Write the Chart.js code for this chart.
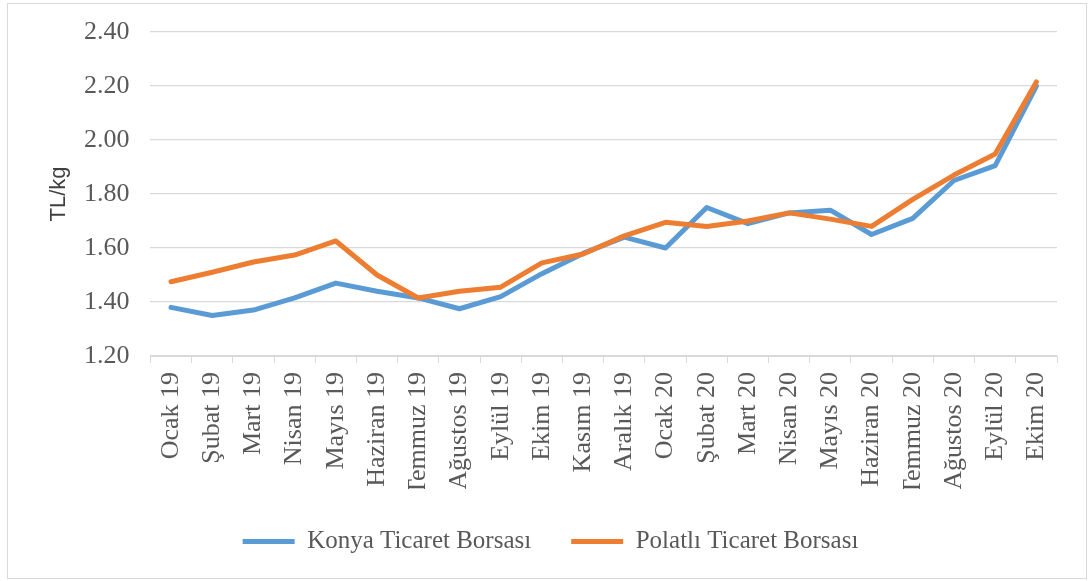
<!DOCTYPE html>
<html>
<head>
<meta charset="utf-8">
<script src="https://cdn.jsdelivr.net/npm/chart.js@4.4.1/dist/chart.umd.min.js"></script>
<style>
  html, body { margin: 0; padding: 0; background: #ffffff; }
  #wrap { position: relative; width: 1088px; height: 581px; }
  #c { position: absolute; left: 0; top: 0; }
  #frame { position: absolute; left: 7px; top: 3px; width: 1080px; height: 576px; box-sizing: border-box; border: 1px solid #d9d9d9; pointer-events: none; }
</style>
</head>
<body>
<div id="wrap">
  <canvas id="c" width="1088" height="581"></canvas>
  <div id="frame"></div>
</div>
<script>
const categories = ["Ocak 19","Şubat 19","Mart 19","Nisan 19","Mayıs 19","Haziran 19","Temmuz 19","Ağustos 19","Eylül 19","Ekim 19","Kasım 19","Aralık 19","Ocak 20","Şubat 20","Mart 20","Nisan 20","Mayıs 20","Haziran 20","Temmuz 20","Ağustos 20","Eylül 20","Ekim 20"];
const konya = [1.38,1.35,1.37,1.415,1.47,1.44,1.415,1.375,1.42,1.505,1.58,1.64,1.60,1.75,1.69,1.73,1.74,1.65,1.71,1.85,1.905,2.20];
const polatli = [1.475,1.51,1.548,1.574,1.626,1.50,1.415,1.44,1.455,1.545,1.578,1.645,1.695,1.68,1.70,1.73,1.707,1.68,1.78,1.87,1.948,2.215];
const seriesNames = ["Konya Ticaret Borsası","Polatlı Ticaret Borsası"];
const yMin = 1.2, yMax = 2.4, yStep = 0.2;
const yTitle = "TL/kg";

const legendHeightPlugin = {
  id: 'legendHeight',
  afterInit(chart) {
    const lg = chart.legend;
    if (!lg) return;
    const orig = lg.fit.bind(lg);
    lg.fit = function() { orig(); this.height = 92; };
  }
};

new Chart(document.getElementById('c'), {
  type: 'line',
  data: {
    labels: categories,
    datasets: [
      { label: seriesNames[0], data: konya, borderColor: '#5b9bd5', backgroundColor: '#5b9bd5', borderWidth: 5, pointRadius: 0, tension: 0, borderCapStyle: 'round', borderJoinStyle: 'round', order: 1 },
      { label: seriesNames[1], data: polatli, borderColor: '#ed7d31', backgroundColor: '#ed7d31', borderWidth: 5, pointRadius: 0, tension: 0, borderCapStyle: 'round', borderJoinStyle: 'round', order: 0 }
    ]
  },
  options: {
    responsive: false,
    animation: false,
    layout: { padding: { left: 44, right: 31, top: 32, bottom: 0 } },
    plugins: {
      tooltip: { enabled: false },
      legend: {
        position: 'bottom',
        labels: {
          usePointStyle: true,
          pointStyle: 'line',
          pointStyleWidth: 52,
          padding: 40,
          color: '#595959',
          font: { family: "'Liberation Serif', 'Times New Roman', serif", size: 25 },
          sort: (a, b) => a.datasetIndex - b.datasetIndex
        }
      }
    },
    scales: {
      x: {
        offset: true,
        grid: { display: true, drawOnChartArea: false, drawTicks: true, tickLength: 7, color: '#d9d9d9', offset: true },
        border: { display: true, color: '#d9d9d9', width: 1 },
        ticks: { autoSkip: false, maxRotation: 90, minRotation: 90, padding: 9, color: '#595959',
          font: { family: "'Liberation Serif', 'Times New Roman', serif", size: 26 } },
        afterFit(scale) { scale.height = 133; scale.paddingLeft = 0; scale.paddingRight = 0; }
      },
      y: {
        min: yMin, max: yMax,
        grid: { color: '#d9d9d9', lineWidth: 1.3, drawTicks: false },
        border: { display: false },
        ticks: { stepSize: yStep, padding: 21, color: '#595959',
          font: { family: "'Liberation Serif', 'Times New Roman', serif", size: 26 },
          callback: (v) => Number(v).toFixed(2) },
        title: { display: true, text: yTitle, color: '#404040', padding: { top: 2, bottom: 0 },
          font: { family: "'Liberation Sans', Arial, sans-serif", size: 22 } },
        afterFit(scale) { scale.width = 150.4 - 44; scale.paddingTop = 0; scale.paddingBottom = 0; }
      }
    }
  },
  plugins: [legendHeightPlugin]
});
</script>
</body>
</html>
